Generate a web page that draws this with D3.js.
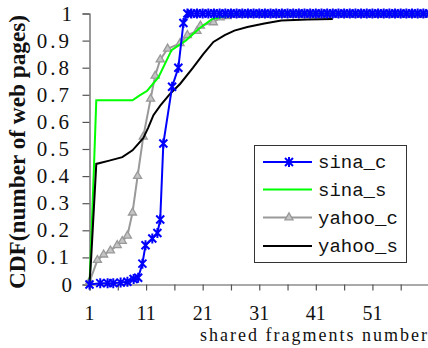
<!DOCTYPE html>
<html>
<head>
<meta charset="utf-8">
<script src="https://cdn.jsdelivr.net/npm/d3@7"></script>
<style>
  body { margin: 0; background: #fff; }
  svg { display: block; }
  .serif { font-family: "Liberation Serif", "Times New Roman", "DejaVu Serif", serif; }
  .mono { font-family: "Liberation Mono", "Courier New", "DejaVu Sans Mono", monospace; }
</style>
</head>
<body>
<div id="chart"></div>
<script>
// Values: [shared fragments, CDF]
const sinaC = [
  [1, 0], [2.9, 0.005], [4.2, 0.005], [5.2, 0.005], [6.5, 0.007], [7.7, 0.01],
  [8.8, 0.02], [9.6, 0.025], [10.35, 0.077], [10.9, 0.145], [12.1, 0.17],
  [13, 0.19], [13.5, 0.24], [14.05, 0.52], [15.6, 0.73], [16.7, 0.8],
  [17.6, 0.965], [18.3, 1.0]
].concat(d3.range(19, 62).map(v => [v, 1.0]));

const sinaS = [
  [1, 0], [1.2, 0.1], [1.8, 0.44], [2.2, 0.68], [8.6, 0.68], [9.8, 0.697],
  [11.2, 0.715], [13.2, 0.765], [15.5, 0.865], [18, 0.9], [20.4, 0.945],
  [22.7, 0.98], [25, 0.99], [27, 1.0], [61, 1.0]
];

const yahooC = [
  [1, 0.01], [2.4, 0.09], [3.5, 0.11], [4.7, 0.125], [5.9, 0.145], [6.8, 0.16],
  [7.7, 0.18], [8.6, 0.265], [9.5, 0.4], [10.5, 0.545], [11.8, 0.685],
  [12.6, 0.77], [13.5, 0.83], [14.8, 0.87], [17, 0.89], [18.3, 0.92],
  [20, 0.935], [20.6, 0.955], [22.9, 0.967], [24.1, 0.985], [25.3, 0.99]
].concat(d3.range(26, 62).map(v => [v, 0.994]));

const yahooS = [
  [1, 0], [1.3, 0.1], [2.2, 0.445], [4.5, 0.457], [6.8, 0.47], [8.6, 0.495],
  [10.5, 0.54], [11.4, 0.58], [12.3, 0.625], [13.5, 0.66], [15.3, 0.705],
  [17, 0.74], [19.3, 0.8], [21.1, 0.85], [22.9, 0.895], [24.9, 0.92],
  [26.6, 0.937], [28.9, 0.95], [31.9, 0.963], [34.9, 0.974], [39.5, 0.978],
  [44, 0.98]
];

const xTickLabels = [1, 11, 21, 31, 41, 51];
const xTicks = d3.range(1, 61, 5);
const yTicks = d3.range(0, 11).map(i => i / 10);

const seriesNames = ["sina_c", "sina_s", "yahoo_c", "yahoo_s"];

const width = 428;
const height = 348;

const svg = d3.select("#chart")
  .append("svg")
  .attr("width", width)
  .attr("height", height);

const x = d3.scaleLinear().domain([1, 61]).range([89.5, 429]);
const y = d3.scaleLinear().domain([0, 1]).range([284.5, 13.5]);

// Axes
const xAxis = d3.axisBottom(x)
  .tickValues(xTicks)
  .tickSize(6)
  .tickFormat("");
svg.append("g")
  .attr("transform", `translate(0,${y(0)})`)
  .call(xAxis)
  .call(g => g.selectAll("path, line").attr("stroke", "#555").attr("stroke-width", 1.2));

const yAxis = d3.axisLeft(y)
  .tickValues(yTicks)
  .tickSize(7)
  .tickFormat("");
svg.append("g")
  .attr("transform", `translate(${x(1)},0)`)
  .call(yAxis)
  .call(g => g.selectAll("path, line").attr("stroke", "#555").attr("stroke-width", 1.2));

// Tick labels
svg.append("g").selectAll("text")
  .data(yTicks)
  .enter()
  .append("text")
  .attr("class", "serif")
  .attr("x", 72)
  .attr("y", d => y(d) + 7)
  .attr("text-anchor", "end")
  .attr("font-size", 21)
  .attr("letter-spacing", d => d === 0 || d === 1 ? 0 : 3)
  .attr("fill", "#111")
  .text(d => d === 0 || d === 1 ? d : d.toFixed(1));

svg.append("g").selectAll("text")
  .data(xTickLabels)
  .enter()
  .append("text")
  .attr("class", "serif")
  .attr("x", d => x(d))
  .attr("y", 320)
  .attr("text-anchor", "middle")
  .attr("font-size", 20)
  .attr("fill", "#111")
  .text(d => d);

// Axis titles
svg.append("text")
  .attr("class", "serif")
  .attr("x", 200)
  .attr("y", 341)
  .attr("font-size", 18)
  .attr("textLength", 227)
  .attr("lengthAdjust", "spacing")
  .attr("fill", "#111")
  .text("shared fragments number");

svg.append("text")
  .attr("class", "serif")
  .attr("transform", "translate(25,289) rotate(-90)")
  .attr("font-weight", "bold")
  .attr("font-size", 23)
  .attr("textLength", 274)
  .attr("lengthAdjust", "spacingAndGlyphs")
  .attr("fill", "#111")
  .text("CDF(number of web pages)");

// Lines
const line = d3.line().x(d => x(d[0])).y(d => y(d[1]));

const star = "M-4,-4L4,4M-4,4L4,-4M0,-5L0,5";
const tri = d3.symbol().type(d3.symbolTriangle).size(28);

const gray = svg.append("g");
gray.append("path").datum(yahooC)
  .attr("d", line).attr("fill", "none")
  .attr("stroke", "#999").attr("stroke-width", 2);
gray.selectAll(".tri").data(yahooC).enter().append("path")
  .attr("transform", d => `translate(${x(d[0])},${y(d[1])})`)
  .attr("d", tri)
  .attr("fill", "#c4c4c4").attr("stroke", "#999").attr("stroke-width", 1.3);

svg.append("path").datum(sinaS)
  .attr("d", line).attr("fill", "none")
  .attr("stroke", "#00ff00").attr("stroke-width", 2);

svg.append("path").datum(yahooS)
  .attr("d", line).attr("fill", "none")
  .attr("stroke", "#000").attr("stroke-width", 2);

svg.append("path").datum(sinaC)
  .attr("d", line).attr("fill", "none")
  .attr("stroke", "#0000ff").attr("stroke-width", 2);
svg.append("g").selectAll("path").data(sinaC).enter().append("path")
  .attr("transform", d => `translate(${x(d[0])},${y(d[1])})`)
  .attr("d", star)
  .attr("fill", "none").attr("stroke", "#0000ff").attr("stroke-width", 2);

// Legend
const legend = svg.append("g");
legend.append("rect")
  .attr("x", 254.5).attr("y", 145.5)
  .attr("width", 152).attr("height", 117)
  .attr("fill", "#fff").attr("stroke", "#333").attr("stroke-width", 1);

const legendColors = ["#0000ff", "#00ff00", "#999", "#000"];
const rowY = [162, 189.5, 217.5, 246];

seriesNames.forEach((name, i) => {
  const row = legend.append("g").attr("transform", `translate(0,${rowY[i]})`);
  row.append("line")
    .attr("x1", 263).attr("x2", 312)
    .attr("stroke", legendColors[i]).attr("stroke-width", 2);
  if (name === "sina_c") {
    row.append("path").attr("transform", "translate(289,0)").attr("d", star)
      .attr("fill", "none").attr("stroke", "#0000ff").attr("stroke-width", 2);
  }
  if (name === "yahoo_c") {
    row.append("path").attr("transform", "translate(289,0)").attr("d", tri)
      .attr("fill", "#c4c4c4").attr("stroke", "#999").attr("stroke-width", 1.3);
  }
  row.append("text")
    .attr("class", "mono")
    .attr("x", 318).attr("y", 6)
    .attr("font-size", 19)
    .attr("fill", "#111")
    .text(name);
});
</script>
</body>
</html>
